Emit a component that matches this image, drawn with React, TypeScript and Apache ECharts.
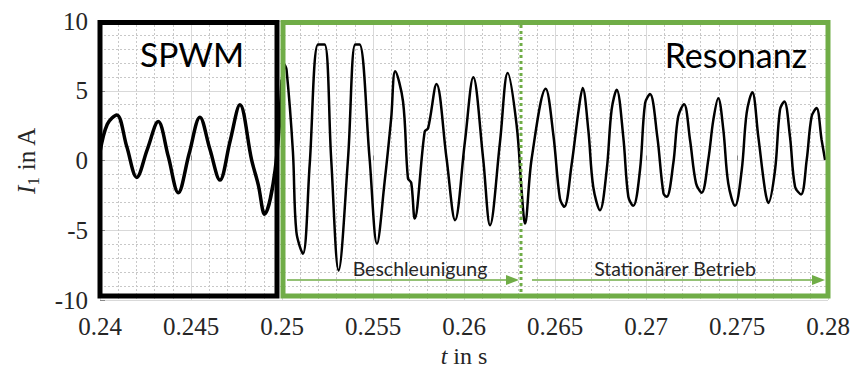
import React, { useEffect, useRef } from "react";
import * as echarts from "echarts";

// SPWM section (t in s, I1 in A)
const spwmTime = [
  0.24, 0.2404, 0.24092, 0.24147, 0.24202, 0.2426, 0.2432, 0.24375, 0.2443, 0.2449,
  0.24549, 0.24604, 0.24659, 0.24715, 0.24769, 0.24833, 0.2487, 0.24904, 0.24962, 0.25,
];
const spwmCurrent = [
  0.6, 2.6, 3.27, 1.0, -1.21, 0.8, 2.79, 0.3, -2.31, 0.5,
  3.1, 0.8, -1.4, 1.4, 3.99, 0.04, -1.76, -3.85, -0.7, 5.8,
];

// Resonance section
const resTime = [
  0.25, 0.25012, 0.25025, 0.2506, 0.25079, 0.25115, 0.25152, 0.25198, 0.25234, 0.2527,
  0.25311, 0.25363, 0.25402, 0.25426, 0.25481, 0.25522, 0.25564, 0.256, 0.25622, 0.25665,
  0.25692, 0.2571, 0.25729, 0.25784, 0.25803, 0.25849, 0.25904, 0.25951, 0.26005, 0.26051,
  0.26105, 0.26143, 0.26198, 0.2624, 0.26289, 0.26317, 0.26335, 0.26372, 0.26449, 0.26491,
  0.26527, 0.26551, 0.26591, 0.2663, 0.26652, 0.26683, 0.2671, 0.26747, 0.26784, 0.26811,
  0.26839, 0.26875, 0.26903, 0.2693, 0.26967, 0.26995, 0.27022, 0.27062, 0.27096, 0.27114,
  0.2715, 0.27177, 0.27209, 0.27242, 0.27275, 0.27306, 0.27342, 0.2737, 0.27397, 0.27425,
  0.27452, 0.27489, 0.27526, 0.27553, 0.27584, 0.27617, 0.27654, 0.27672, 0.27709, 0.27736,
  0.2776, 0.27791, 0.27819, 0.27852, 0.27883, 0.2791, 0.27937, 0.27965, 0.27984,
];
const resCurrent = [
  5.8, 6.9, 6.5, 0.63, -5.12, -6.68, -0.32, 8.31, 8.31, 0.16,
  -7.88, 0.18, 8.31, 8.31, 0.18, -5.96, -1.52, 3.03, 6.39, 4.23,
  -1.28, -1.6, -4.16, 2.07, 2.32, 5.48, 0.16, -4.28, 1.35, 5.96,
  0.16, -4.64, 1.35, 6.27, 2.55, -2.24, -4.52, 0.16, 5.14, 1.83,
  -2.72, -3.32, -0.32, 3.63, 5.19, 2.19, -1.88, -3.56, -0.68, 3.63,
  5.07, 1.71, -2.6, -3.25, -0.68, 4.11, 4.76, 1.71, -2.36, -2.6,
  -0.2, 3.15, 4.04, 1.47, -1.64, -2.31, 0.04, 2.91, 4.47, 2.19,
  -1.64, -3.25, -0.68, 3.4, 4.9, 1.71, -2.12, -3.04, -0.68, 3.63,
  4.23, 1.71, -1.88, -2.43, 0.04, 3.15, 3.76, 1.47, 0.04,
];

const xTicks = { min: 0.24, max: 0.28, interval: 0.005 };
const yTicks = { min: -10, max: 10, interval: 5 };

const GREEN = "#70AD47";
const SANS = "Lato, 'Open Sans', sans-serif";
const SERIF = "'Liberation Serif', 'DejaVu Serif', serif";

export default function App() {
  const ref = useRef<HTMLDivElement>(null);
  useEffect(() => {
    if (!ref.current) return;
    const chart = echarts.init(ref.current, undefined, { renderer: "svg" });
    const spwm = spwmTime.map((t, i) => [t, spwmCurrent[i]]);
    const res = resTime.map((t, i) => [t, resCurrent[i]]);
    chart.setOption({
      animation: false,
      backgroundColor: "#ffffff",
      grid: { left: 100, right: 29, top: 21, bottom: 67, containLabel: false, outerBoundsMode: "none" },
      xAxis: {
        type: "value",
        min: xTicks.min,
        max: xTicks.max,
        interval: xTicks.interval,
        axisLine: { show: false },
        axisTick: { show: true, inside: true, length: 5, lineStyle: { color: "#888" } },
        axisLabel: {
          color: "#262626",
          fontFamily: SERIF,
          fontSize: 25,
          margin: 14,
          formatter: (v: number) => String(parseFloat(v.toFixed(3))),
        },
        splitLine: { show: true, lineStyle: { color: "#d9d9d9", width: 1 } },
        minorTick: { show: false, splitNumber: 5 },
        minorSplitLine: { show: true, lineStyle: { color: "#c8c8c8", type: [2, 2], width: 1 } },
        name: "{i|t} in s",
        nameLocation: "middle",
        nameGap: 37,
        nameTextStyle: {
          color: "#262626",
          fontFamily: SERIF,
          fontSize: 24,
          lineHeight: 22,
          rich: {
            i: { fontStyle: "italic", fontFamily: SERIF, fontSize: 24, lineHeight: 22, color: "#262626" },
          },
        },
      },
      yAxis: {
        type: "value",
        min: yTicks.min,
        max: yTicks.max,
        interval: yTicks.interval,
        axisLine: { show: false },
        axisTick: { show: true, inside: true, length: 5, lineStyle: { color: "#888" } },
        axisLabel: { color: "#262626", fontFamily: SERIF, fontSize: 25, margin: 12 },
        splitLine: { show: true, lineStyle: { color: "#d9d9d9", width: 1 } },
        minorTick: { show: false, splitNumber: 5 },
        minorSplitLine: { show: true, lineStyle: { color: "#c8c8c8", type: [2, 2], width: 1 } },
        name: "{i|I}{s|1} in A",
        nameLocation: "middle",
        nameRotate: 90,
        nameGap: 58,
        nameTextStyle: {
          color: "#262626",
          fontFamily: SERIF,
          fontSize: 25,
          rich: {
            i: { fontStyle: "italic", fontFamily: SERIF, fontSize: 25, color: "#262626" },
            s: { fontFamily: SERIF, fontSize: 17, color: "#262626", padding: [14, 0, 0, 0] },
          },
        },
      },
      series: [
        {
          name: "SPWM",
          type: "line",
          data: spwm,
          showSymbol: false,
          smooth: 0.35,
          lineStyle: { color: "#000", width: 3.5 },
          z: 3,
        },
        {
          name: "Resonanz",
          type: "line",
          data: res,
          showSymbol: false,
          smooth: 0.35,
          lineStyle: { color: "#000", width: 2.5 },
          z: 3,
        },
      ],
      graphic: [
        {
          type: "rect",
          z: 100,
          shape: { x: 100, y: 22.5, width: 177, height: 273.5 },
          style: { fill: "none", stroke: "#000", lineWidth: 5 },
        },
        {
          type: "rect",
          z: 100,
          shape: { x: 283, y: 22.5, width: 545, height: 273.5 },
          style: { fill: "none", stroke: GREEN, lineWidth: 5 },
        },
        {
          type: "line",
          z: 100,
          shape: { x1: 521, y1: 25, x2: 521, y2: 294 },
          style: { stroke: GREEN, lineWidth: 3, lineDash: [3, 3] },
        },
        {
          type: "line",
          z: 100,
          shape: { x1: 287, y1: 280, x2: 510, y2: 280 },
          style: { stroke: GREEN, lineWidth: 1.5 },
        },
        {
          type: "polygon",
          z: 100,
          shape: { points: [[506, 275], [519, 280], [506, 285]] },
          style: { fill: GREEN },
        },
        {
          type: "line",
          z: 100,
          shape: { x1: 532, y1: 280, x2: 815, y2: 280 },
          style: { stroke: GREEN, lineWidth: 1.5 },
        },
        {
          type: "polygon",
          z: 100,
          shape: { points: [[812, 275], [825, 280], [812, 285]] },
          style: { fill: GREEN },
        },
        {
          type: "text",
          z: 100,
          x: 140,
          y: 54,
          style: { text: "SPWM", fontFamily: SANS, fontSize: 33.5, fill: "#000", verticalAlign: "middle", align: "left" },
        },
        {
          type: "text",
          z: 100,
          x: 807,
          y: 54,
          style: { text: "Resonanz", fontFamily: SANS, fontSize: 34, fill: "#000", verticalAlign: "middle", align: "right" },
        },
        {
          type: "text",
          z: 100,
          x: 420,
          y: 268,
          style: { text: "Beschleunigung", fontFamily: SANS, fontSize: 19.5, fill: "#262626", verticalAlign: "middle", align: "center" },
        },
        {
          type: "text",
          z: 100,
          x: 675,
          y: 268,
          style: { text: "Stationärer Betrieb", fontFamily: SANS, fontSize: 19.5, fill: "#262626", verticalAlign: "middle", align: "center" },
        },
      ],
    });
    return () => chart.dispose();
  }, []);
  return (
    <div
      ref={ref}
      style={{ position: "fixed", left: 0, top: 0, width: 857, height: 367, background: "#fff" }}
    />
  );
}
